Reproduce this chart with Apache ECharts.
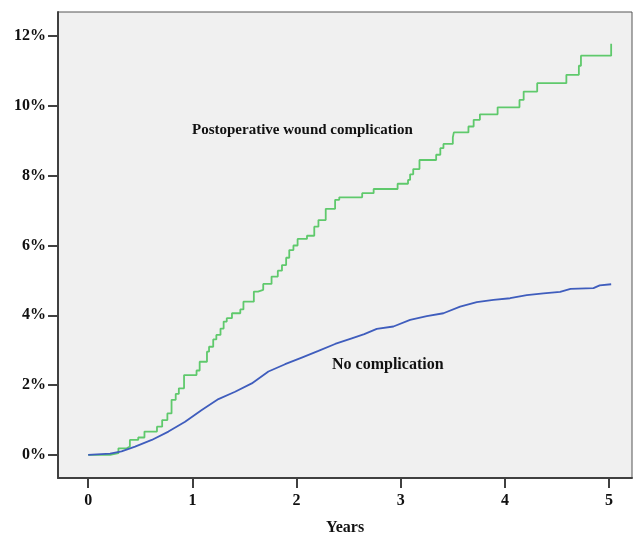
<!DOCTYPE html>
<html lang="en">
<head>
    <meta charset="UTF-8">
    <title>Cumulative incidence</title>
    <script src="https://cdn.jsdelivr.net/npm/echarts@6/dist/echarts.min.js"></script>
    <style>
        body, html {
            margin: 0;
            width: 100%;
            height: 100%;
            background: #fff;
        }
        #chart {
            width: 633px;
            height: 534px;
        }
    </style>
</head>
<body>
<div id="chart"></div>
<script>
    // x ticks (years) and y ticks (percent)
    let yearTicks = [0, 1, 2, 3, 4, 5];
    let pctTicks = [0, 2, 4, 6, 8, 10, 12];

    // postoperative wound complication: [year, cumulative %] at each step
    let woundSteps = [
        [0, 0], [0.21, 0.05], [0.29, 0.19], [0.37, 0.24], [0.40, 0.43], [0.48, 0.50],
        [0.54, 0.67], [0.66, 0.81], [0.71, 1.00], [0.76, 1.19], [0.80, 1.58], [0.84, 1.75],
        [0.87, 1.91], [0.92, 2.29], [1.04, 2.42], [1.07, 2.67], [1.14, 2.96], [1.16, 3.10],
        [1.20, 3.31], [1.23, 3.44], [1.27, 3.62], [1.30, 3.82], [1.33, 3.92], [1.38, 4.06],
        [1.46, 4.17], [1.49, 4.39], [1.59, 4.68], [1.63, 4.73], [1.68, 4.90], [1.76, 5.11],
        [1.82, 5.28], [1.86, 5.44], [1.90, 5.65], [1.93, 5.87], [1.97, 6.00], [2.01, 6.19],
        [2.10, 6.28], [2.17, 6.54], [2.21, 6.73], [2.28, 7.05], [2.37, 7.31], [2.41, 7.38],
        [2.63, 7.50], [2.74, 7.62], [2.97, 7.77], [3.07, 7.88], [3.09, 8.04], [3.12, 8.19],
        [3.18, 8.45], [3.34, 8.60], [3.38, 8.79], [3.41, 8.91], [3.50, 9.10], [3.51, 9.24],
        [3.65, 9.41], [3.70, 9.60], [3.76, 9.76], [3.93, 9.96], [4.14, 10.17], [4.18, 10.41],
        [4.31, 10.65], [4.59, 10.89], [4.71, 11.15], [4.73, 11.44], [5.02, 11.78]
    ];

    // no complication
    let noneSteps = [
        [0, 0], [0.21, 0.04], [0.32, 0.10], [0.45, 0.24], [0.61, 0.43], [0.77, 0.67],
        [0.93, 0.95], [1.09, 1.29], [1.25, 1.60], [1.41, 1.81], [1.57, 2.05], [1.73, 2.39],
        [1.89, 2.60], [2.05, 2.79], [2.21, 2.98], [2.37, 3.18], [2.53, 3.34], [2.65, 3.46],
        [2.77, 3.61], [2.93, 3.68], [3.09, 3.87], [3.25, 3.98], [3.41, 4.06], [3.57, 4.25],
        [3.73, 4.38], [3.89, 4.44], [4.05, 4.49], [4.21, 4.58], [4.37, 4.63], [4.53, 4.67],
        [4.63, 4.76], [4.85, 4.78], [4.91, 4.86], [5.02, 4.89]
    ];

    let serif = '"Liberation Serif", "DejaVu Serif", serif';
    let labelFont = {color: '#111', fontFamily: serif, fontWeight: 'bold', fontSize: 16};

    let chart = echarts.init(document.getElementById('chart'));

    chart.setOption({
        animation: false,
        grid: {
            left: 58, top: 12, right: 1, bottom: 56,
            containLabel: false,
            outerBoundsMode: 'none',
            show: true,
            backgroundColor: '#f0f0f0',
            borderColor: '#555',
            borderWidth: 1
        },
        xAxis: {
            type: 'value',
            min: -0.29,
            max: 5.22,
            name: 'Years',
            nameLocation: 'middle',
            nameGap: 42,
            nameTextStyle: labelFont,
            splitLine: {show: false},
            axisLine: {onZero: false, lineStyle: {color: '#404040', width: 2}},
            axisTick: {customValues: yearTicks, length: 10, lineStyle: {color: '#404040', width: 2}},
            axisLabel: Object.assign({customValues: yearTicks, margin: 15}, labelFont)
        },
        yAxis: {
            type: 'value',
            min: -0.66,
            max: 12.69,
            splitLine: {show: false},
            axisLine: {show: true, onZero: false, lineStyle: {color: '#404040', width: 2}},
            axisTick: {show: true, customValues: pctTicks, length: 10, lineStyle: {color: '#404040', width: 2}},
            axisLabel: Object.assign({
                customValues: pctTicks,
                margin: 12,
                formatter: function (v) { return v + '%'; }
            }, labelFont)
        },
        series: [
            {
                name: 'Postoperative wound complication',
                type: 'line',
                step: 'end',
                showSymbol: false,
                data: woundSteps,
                lineStyle: {color: '#5fc96c', width: 1.8}
            },
            {
                name: 'No complication',
                type: 'line',
                showSymbol: false,
                data: noneSteps,
                lineStyle: {color: '#3f5dbd', width: 1.8}
            }
        ],
        graphic: [
            {
                type: 'text', left: 192, top: 123,
                style: {text: 'Postoperative wound complication', fill: '#111', font: 'bold 15px ' + serif}
            },
            {
                type: 'text', left: 332, top: 357,
                style: {text: 'No complication', fill: '#111', font: 'bold 16px ' + serif}
            }
        ]
    });
</script>
</body>
</html>
